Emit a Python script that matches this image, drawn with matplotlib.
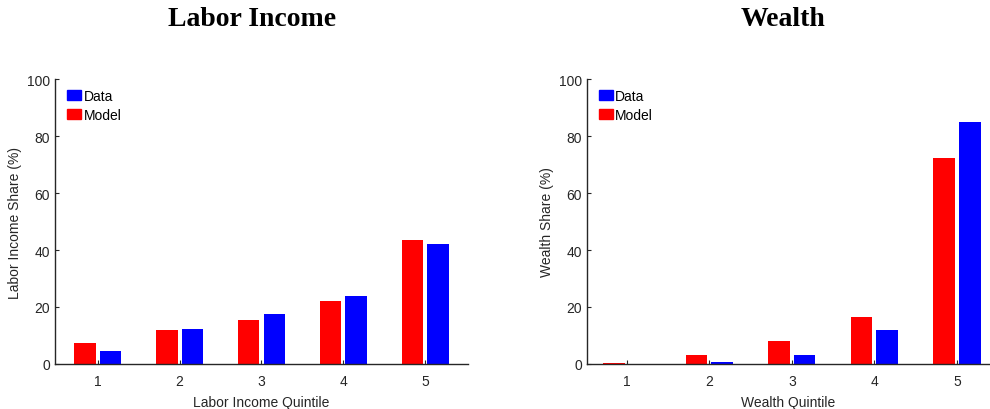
import numpy as np
import matplotlib.pyplot as plt
from matplotlib.patches import Patch

quintiles = [1, 2, 3, 4, 5]
labor_model = [7.2, 11.8, 15.4, 22.2, 43.5]
labor_data = [4.7, 12.2, 17.4, 23.7, 42.1]
wealth_model = [0.3, 3.3, 8.1, 16.5, 72.4]
wealth_data = [0.0, 0.6, 3.3, 11.8, 84.9]

plt.rcParams['font.family'] = ['Liberation Sans', 'DejaVu Sans']

fig = plt.figure(figsize=(9.9, 4.1), dpi=100)
ax1 = fig.add_axes([0.0556, 0.1098, 0.417, 0.695])
ax2 = fig.add_axes([0.593, 0.1098, 0.407, 0.695])

gray = '#262626'
w = 0.26


def draw_panel(ax, model, data, xlab, ylab, xlim):
    x = np.array(quintiles)
    ax.bar(x - 0.155, model, w, color='#ff0000', edgecolor='none')
    ax.bar(x + 0.155, data, w, color='#0000ff', edgecolor='none')
    ax.set_xlim(xlim)
    ax.set_ylim(0, 100)
    ax.set_xticks(quintiles)
    ax.set_yticks([0, 20, 40, 60, 80, 100])
    ax.spines['top'].set_visible(False)
    ax.spines['right'].set_visible(False)
    for s in ('left', 'bottom'):
        ax.spines[s].set_color(gray)
        ax.spines[s].set_linewidth(1.0)
    ax.tick_params(direction='in', length=3, colors=gray, labelsize=10, width=0.8)
    ax.tick_params(axis='x', pad=7)
    ax.set_xlabel(xlab, fontsize=10, color=gray, labelpad=5)
    ax.set_ylabel(ylab, fontsize=10, color=gray, labelpad=4)
    handles = [Patch(color='#0000ff', label='Data'), Patch(color='#ff0000', label='Model')]
    ax.legend(handles=handles, loc='upper left', frameon=False, fontsize=10,
              handlelength=1.0, handleheight=0.8, handletextpad=0.2,
              borderaxespad=0.0, labelspacing=0.35, bbox_to_anchor=(0.015, 0.985))


draw_panel(ax1, labor_model, labor_data, 'Labor Income Quintile',
           'Labor Income Share (%)', (0.48, 5.52))
draw_panel(ax2, wealth_model, wealth_data, 'Wealth Quintile',
           'Wealth Share (%)', (0.52, 5.4))

fig.text(0.255, 0.952, 'Labor Income', ha='center', va='center', fontsize=20,
         fontweight='bold', family='Liberation Serif')
fig.text(0.791, 0.952, 'Wealth', ha='center', va='center', fontsize=20,
         fontweight='bold', family='Liberation Serif')

fig.savefig('out.png', dpi=100)
